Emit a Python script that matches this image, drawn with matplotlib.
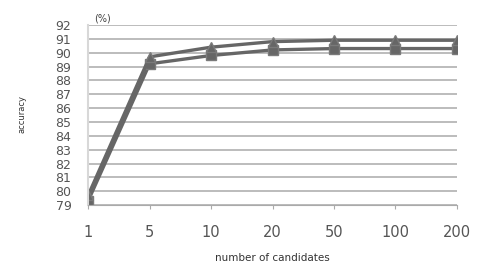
import matplotlib.pyplot as plt

# candidate counts on the x axis (categorical)
candidates = ['1', '5', '10', '20', '50', '100', '200']
acc_triangle = [79.7, 89.7, 90.4, 90.8, 90.9, 90.9, 90.9]
acc_square = [79.3, 89.2, 89.8, 90.2, 90.3, 90.3, 90.3]
yticks = list(range(79, 93))

fig = plt.figure(figsize=(4.79, 2.66), dpi=100)
ax = fig.add_axes([0.184, 0.229, 0.770, 0.677])

x = list(range(len(candidates)))
ax.plot(x, acc_square, color='#666666', lw=2.4, marker='s', ms=6.5, mfc='#666666', mec='#7a7a7a')
ax.plot(x, acc_triangle, color='#666666', lw=2.4, marker='^', ms=7, mfc='#666666', mec='#7a7a7a')

ax.set_xlim(0, len(candidates) - 1)
ax.set_ylim(79, 92)
ax.set_yticks(yticks)
ax.set_yticklabels([str(v) for v in yticks], fontsize=9, color='#555555')
ax.set_xticks(x)
ax.set_xticklabels(candidates, fontsize=10.5, color='#555555')
ax.grid(axis='y', color='#b0b0b0', lw=1.2)
ax.set_axisbelow(True)
for side in ['top', 'right']:
    ax.spines[side].set_visible(False)
ax.spines['left'].set_color('#d8d8d8')
ax.spines['left'].set_linewidth(1.5)
ax.spines['bottom'].set_color('#aaaaaa')
ax.tick_params(axis='y', length=0, pad=12)
ax.tick_params(axis='x', length=3, color='#aaaaaa', pad=11)

ax.set_xlabel('number of candidates', fontsize=7.5, color='#333333', labelpad=9.5)
fig.text(0.046, 0.57, 'accuracy', rotation=90, fontsize=6, color='#333333', ha='center', va='center')
fig.text(0.196, 0.93, '(%)', fontsize=7, color='#444444', ha='left', va='center')

fig.savefig('out.png', dpi=100)
